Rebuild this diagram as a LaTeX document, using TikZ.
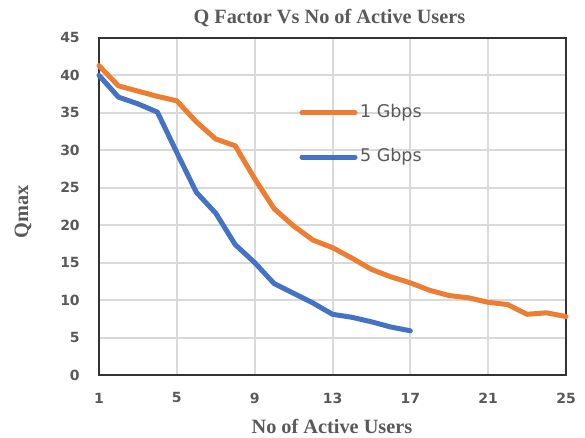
\documentclass[tikz,border=0pt]{standalone}
\usepackage{fontspec}
\setmainfont{Liberation Serif}
\setsansfont{DejaVu Sans}
\definecolor{gbOne}{HTML}{ED7D31}
\definecolor{gbFive}{HTML}{4472C4}
\definecolor{gridgray}{HTML}{D9D9D9}
\definecolor{txtgray}{HTML}{595959}

\begin{document}
\begin{tikzpicture}[x=19.46pt,y=7.49pt,
    series/.style={line width=5pt,line join=round,line cap=round},
    ticklbl/.style={text=txtgray,inner sep=0pt,
        font=\sffamily\bfseries\fontsize{14}{16}\selectfont},
    axlbl/.style={text=txtgray,inner sep=0pt,
        font=\bfseries\fontsize{20.3}{23}\selectfont},
    leglbl/.style={text=txtgray,inner sep=0pt,anchor=west,
        font=\sffamily\fontsize{17.5}{20}\selectfont}]
    \useasboundingbox (-4.088,-8.411) rectangle (25.976,50.067);

    % grid and frame
    \foreach \q in {5,10,...,40}
        \draw[gridgray,line width=2pt] (1,\q) -- (25,\q);
    \foreach \u in {5,9,...,21}
        \draw[gridgray,line width=2pt] (\u,0) -- (\u,45);
    \draw[black!80,line width=1.3pt] (1,0) rectangle (25,45);

    % tick labels
    \foreach \q in {0,5,...,45}
        \node[ticklbl,anchor=east] (q\q) at (0.02,\q) {\q};
    \foreach \u in {1,5,...,25}
        \node[ticklbl] (u\u) at (\u,-3.07) {\u};

    \node[axlbl] (title) at (12.84,47.7) {Q Factor Vs No of Active Users};
    \node[axlbl,rotate=90] (ylbl) at (-2.906,21.76) {Qmax};
    \node[axlbl] (xlbl) at (12.97,-6.94) {No of Active Users};

    % data
    \draw[series,gbOne] plot coordinates {(1,41.3) (2,38.6) (3,37.9) (4,37.2)
        (5,36.6) (6,33.8) (7,31.5) (8,30.6) (9,26.2) (10,22.2) (11,19.9)
        (12,18.0) (13,17.0) (14,15.6) (15,14.1) (16,13.1) (17,12.3) (18,11.3)
        (19,10.6) (20,10.3) (21,9.7) (22,9.4) (23,8.1) (24,8.3) (25,7.8)};
    \draw[series,gbFive] plot coordinates {(1,40.0) (2,37.1) (3,36.2) (4,35.1)
        (5,29.7) (6,24.4) (7,21.6) (8,17.4) (9,15.0) (10,12.2) (11,10.9)
        (12,9.6) (13,8.1) (14,7.7) (15,7.1) (16,6.4) (17,5.9)};

    % legend
    \coordinate (l1a) at (11.43,34.98);
    \coordinate (l1b) at (14.16,34.98);
    \coordinate (l5a) at (11.43,29.1);
    \coordinate (l5b) at (14.16,29.1);
    \draw[series,gbOne] (l1a) -- (l1b);
    \draw[series,gbFive] (l5a) -- (l5b);
    \node[leglbl] (k1) at (14.41,34.98) {1 Gbps};
    \node[leglbl] (k5) at (14.41,29.1) {5 Gbps};
\end{tikzpicture}
\end{document}
